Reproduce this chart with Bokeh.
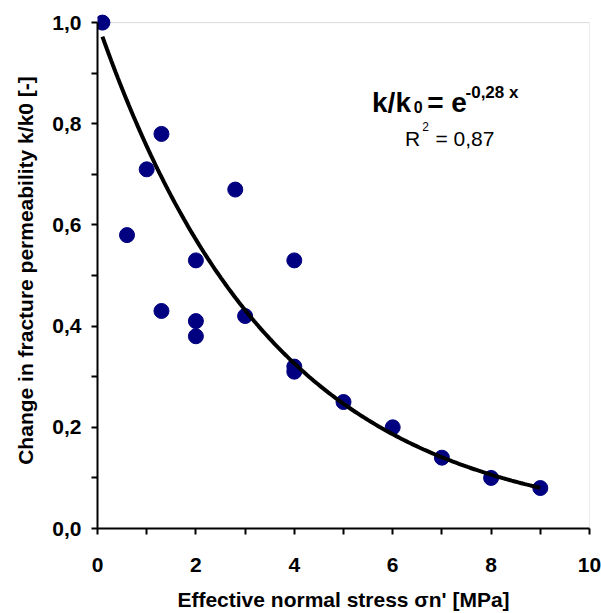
import numpy as np
from bokeh.plotting import figure
from bokeh.models import (Range1d, FixedTicker, CustomJSTickFormatter, BoxAnnotation,
                          Label, ColumnDataSource)
from bokeh.embed import file_html
from bokeh.resources import INLINE

# ---- data ----
stress = [0.1, 0.6, 1.0, 1.3, 1.3, 2.0, 2.0, 2.0, 2.8, 3.0, 4.0, 4.0, 4.0, 5.0, 6.0, 7.0, 8.0, 9.0]
perm = [1.00, 0.58, 0.71, 0.78, 0.43, 0.53, 0.41, 0.38, 0.67, 0.42, 0.53, 0.32, 0.31, 0.25, 0.20, 0.14, 0.10, 0.08]
fit_coef = -0.28          # k/k0 = exp(-0.28 x)
fit_x_range = [0.1, 9.0]
r_squared = "0,87"

x_major = [0, 2, 4, 6, 8, 10]
x_minor = [1, 3, 5, 7, 9]
y_major = [0.0, 0.2, 0.4, 0.6, 0.8, 1.0]
y_minor = [0.1, 0.3, 0.5, 0.7, 0.9]

FONT = "Liberation Sans"

p = figure(width=601, height=613, output_backend="svg", toolbar_location=None,
           x_range=Range1d(0, 10), y_range=Range1d(0, 1.02),
           min_border_left=97, min_border_right=12, min_border_top=12, min_border_bottom=84)
p.outline_line_color = None
p.xgrid.grid_line_color = None
p.ygrid.grid_line_color = None
p.background_fill_color = "white"
p.border_fill_color = "white"

# plot area border (top/right in gray)
p.add_layout(BoxAnnotation(left=0, right=10, bottom=0, top=1.0, fill_color=None,
                           line_color="#808080", line_width=1, level="underlay"))

for ax, major, minor in ((p.xaxis, x_major, x_minor), (p.yaxis, y_major, y_minor)):
    ax.ticker = FixedTicker(ticks=major, minor_ticks=minor)
    ax.axis_line_color = "black"
    ax.axis_line_width = 2
    ax.major_tick_line_color = "black"
    ax.major_tick_line_width = 2
    ax.minor_tick_line_color = "black"
    ax.minor_tick_line_width = 2
    ax.major_tick_in = 0
    ax.major_tick_out = 6
    ax.minor_tick_in = 0
    ax.minor_tick_out = 6
    ax.major_label_text_font = FONT
    ax.major_label_text_font_style = "bold"
    ax.major_label_text_font_size = "21px"
    ax.major_label_text_color = "black"
    ax.axis_label_text_font = FONT
    ax.axis_label_text_font_style = "bold"
    ax.axis_label_text_font_size = "21px"
    ax.axis_label_text_color = "black"

p.xaxis.formatter = CustomJSTickFormatter(code="return tick.toFixed(0);")
p.yaxis.formatter = CustomJSTickFormatter(code="return tick.toFixed(1).replace('.', ',');")
p.yaxis.bounds = (0, 1.0)
p.xaxis.axis_label = "Effective normal stress \u03c3n' [MPa]"
p.yaxis.axis_label = "Change in fracture permeability k/k0 [-]"
p.xaxis.major_label_standoff = 23
p.xaxis.axis_label_standoff = 13
p.yaxis.major_label_standoff = 10
p.yaxis.axis_label_standoff = 12

# points
src = ColumnDataSource(dict(x=stress, y=perm))
p.scatter("x", "y", source=src, size=15, fill_color="#000080", line_color="#000080")

# exponential trend line
fx = np.linspace(fit_x_range[0], fit_x_range[1], 200)
fy = np.exp(fit_coef * fx)
p.line(fx, fy, line_color="black", line_width=4)

# equation annotation
def lab(text, x, y, size, style="bold"):
    p.add_layout(Label(x=x, y=y, text=text, text_font=FONT, text_font_size=size,
                       text_font_style=style, text_color="black",
                       text_align="left", text_baseline="alphabetic"))

lab("k/k", 5.58, 0.842, "28px")
lab("0", 6.43, 0.833, "16px")
lab("= e", 6.70, 0.842, "28px")
lab("-0,28 x", 7.48, 0.862, "17px")
lab("R", 6.25, 0.771, "21px", "normal")
lab("2", 6.60, 0.794, "12px", "normal")
lab("= " + r_squared, 6.87, 0.771, "21px", "normal")

open("out.html", "w").write(file_html(p, INLINE))
